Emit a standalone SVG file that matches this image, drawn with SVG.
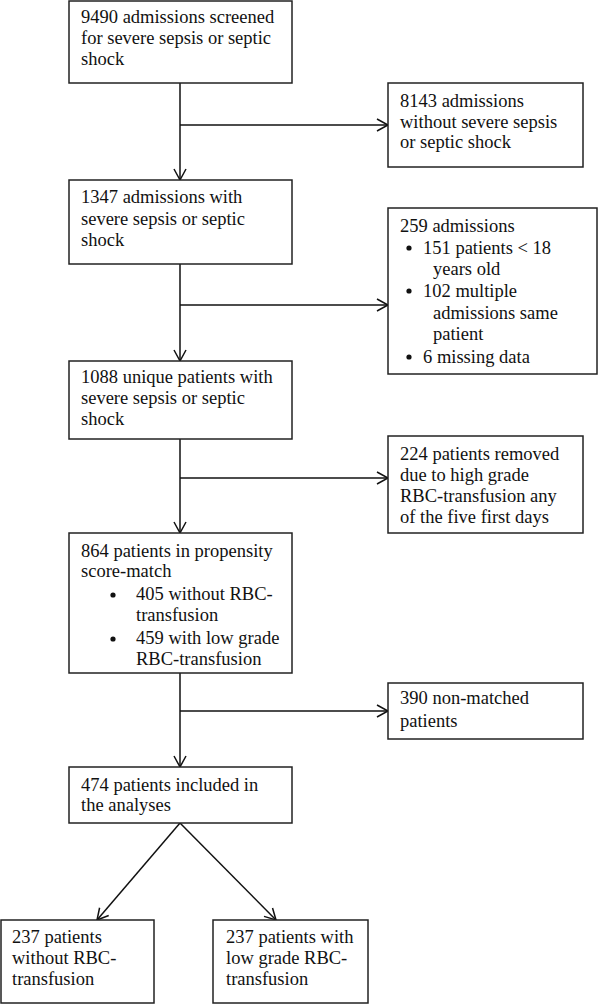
<svg xmlns="http://www.w3.org/2000/svg" width="598" height="1004" viewBox="0 0 598 1004">
<style>
.box{fill:#fff;stroke:#222;stroke-width:1.5}
.t{font-family:'Liberation Serif','Times New Roman','DejaVu Serif',serif;font-size:18.5px;fill:#111}
.c{fill:none;stroke:#111;stroke-width:1.5}
.b{fill:#111}
</style>
<defs>
<marker id="ah" markerUnits="userSpaceOnUse" viewBox="-12 -7 13 14" refX="0" refY="0" markerWidth="13" markerHeight="14" orient="auto" overflow="visible">
<path d="M-11,-6 L0,0 L-11,6" fill="none" stroke="#111" stroke-width="1.5"/>
</marker>
</defs>
<rect width="598" height="1004" fill="#fff"/>
<g id="connectors">
<line class="c" x1="180" y1="83" x2="180" y2="180" marker-end="url(#ah)"/>
<line class="c" x1="180" y1="125" x2="388" y2="125" marker-end="url(#ah)"/>
<line class="c" x1="180" y1="264" x2="180" y2="361" marker-end="url(#ah)"/>
<line class="c" x1="180" y1="305" x2="388" y2="305" marker-end="url(#ah)"/>
<line class="c" x1="180" y1="439" x2="180" y2="533" marker-end="url(#ah)"/>
<line class="c" x1="180" y1="478" x2="388" y2="478" marker-end="url(#ah)"/>
<line class="c" x1="180" y1="673" x2="180" y2="767" marker-end="url(#ah)"/>
<line class="c" x1="180" y1="711" x2="388" y2="711" marker-end="url(#ah)"/>
<line class="c" x1="180" y1="823" x2="97" y2="920" marker-end="url(#ah)"/>
<line class="c" x1="180" y1="823" x2="276" y2="920" marker-end="url(#ah)"/>
</g>
<g font-family="Liberation Serif, Times New Roman, serif">
<g id="n1">
<rect class="box" x="69" y="1" width="223" height="82"/>
<text class="t" x="81" y="23">9490 admissions screened</text>
<text class="t" x="81" y="44">for severe sepsis or septic</text>
<text class="t" x="81" y="65">shock</text>
</g>
<g id="n2">
<rect class="box" x="388" y="83" width="195" height="84"/>
<text class="t" x="400" y="107">8143 admissions</text>
<text class="t" x="400" y="128">without severe sepsis</text>
<text class="t" x="400" y="148">or septic shock</text>
</g>
<g id="n3">
<rect class="box" x="69" y="180" width="223" height="84"/>
<text class="t" x="81" y="203">1347 admissions with</text>
<text class="t" x="81" y="225">severe sepsis or septic</text>
<text class="t" x="81" y="246">shock</text>
</g>
<g id="n4">
<rect class="box" x="388" y="208" width="209" height="166"/>
<text class="t" x="400" y="232">259 admissions</text>
<circle class="b" cx="409" cy="248" r="2.6"/>
<text class="t" x="423" y="254">151 patients &lt; 18</text>
<text class="t" x="433" y="275">years old</text>
<circle class="b" cx="409" cy="291" r="2.6"/>
<text class="t" x="423" y="297">102 multiple</text>
<text class="t" x="433" y="319">admissions same</text>
<text class="t" x="433" y="340">patient</text>
<circle class="b" cx="409" cy="357" r="2.6"/>
<text class="t" x="423" y="363">6 missing data</text>
</g>
<g id="n5">
<rect class="box" x="69" y="361" width="223" height="78"/>
<text class="t" x="81" y="383">1088 unique patients with</text>
<text class="t" x="81" y="404">severe sepsis or septic</text>
<text class="t" x="81" y="425">shock</text>
</g>
<g id="n6">
<rect class="box" x="388" y="436" width="195" height="97"/>
<text class="t" x="400" y="460">224 patients removed</text>
<text class="t" x="400" y="481">due to high grade</text>
<text class="t" x="400" y="502">RBC-transfusion any</text>
<text class="t" x="400" y="523">of the five first days</text>
</g>
<g id="n7">
<rect class="box" x="69" y="533" width="223" height="140"/>
<text class="t" x="81" y="557">864 patients in propensity</text>
<text class="t" x="81" y="577">score-match</text>
<circle class="b" cx="113" cy="595" r="2.6"/>
<text class="t" x="136" y="600">405 without RBC-</text>
<text class="t" x="136" y="621">transfusion</text>
<circle class="b" cx="113" cy="639" r="2.6"/>
<text class="t" x="136" y="644">459 with low grade</text>
<text class="t" x="136" y="665">RBC-transfusion</text>
</g>
<g id="n8">
<rect class="box" x="388" y="683" width="195" height="56"/>
<text class="t" x="400" y="704">390 non-matched</text>
<text class="t" x="400" y="727">patients</text>
</g>
<g id="n9">
<rect class="box" x="69" y="767" width="223" height="56"/>
<text class="t" x="81" y="791">474 patients included in</text>
<text class="t" x="81" y="811">the analyses</text>
</g>
<g id="n10">
<rect class="box" x="1" y="920" width="153" height="83"/>
<text class="t" x="12" y="943">237 patients</text>
<text class="t" x="12" y="964">without RBC-</text>
<text class="t" x="12" y="985">transfusion</text>
</g>
<g id="n11">
<rect class="box" x="213" y="920" width="155" height="83"/>
<text class="t" x="226" y="943">237 patients with</text>
<text class="t" x="226" y="964">low grade RBC-</text>
<text class="t" x="226" y="985">transfusion</text>
</g>
</g>
</svg>
